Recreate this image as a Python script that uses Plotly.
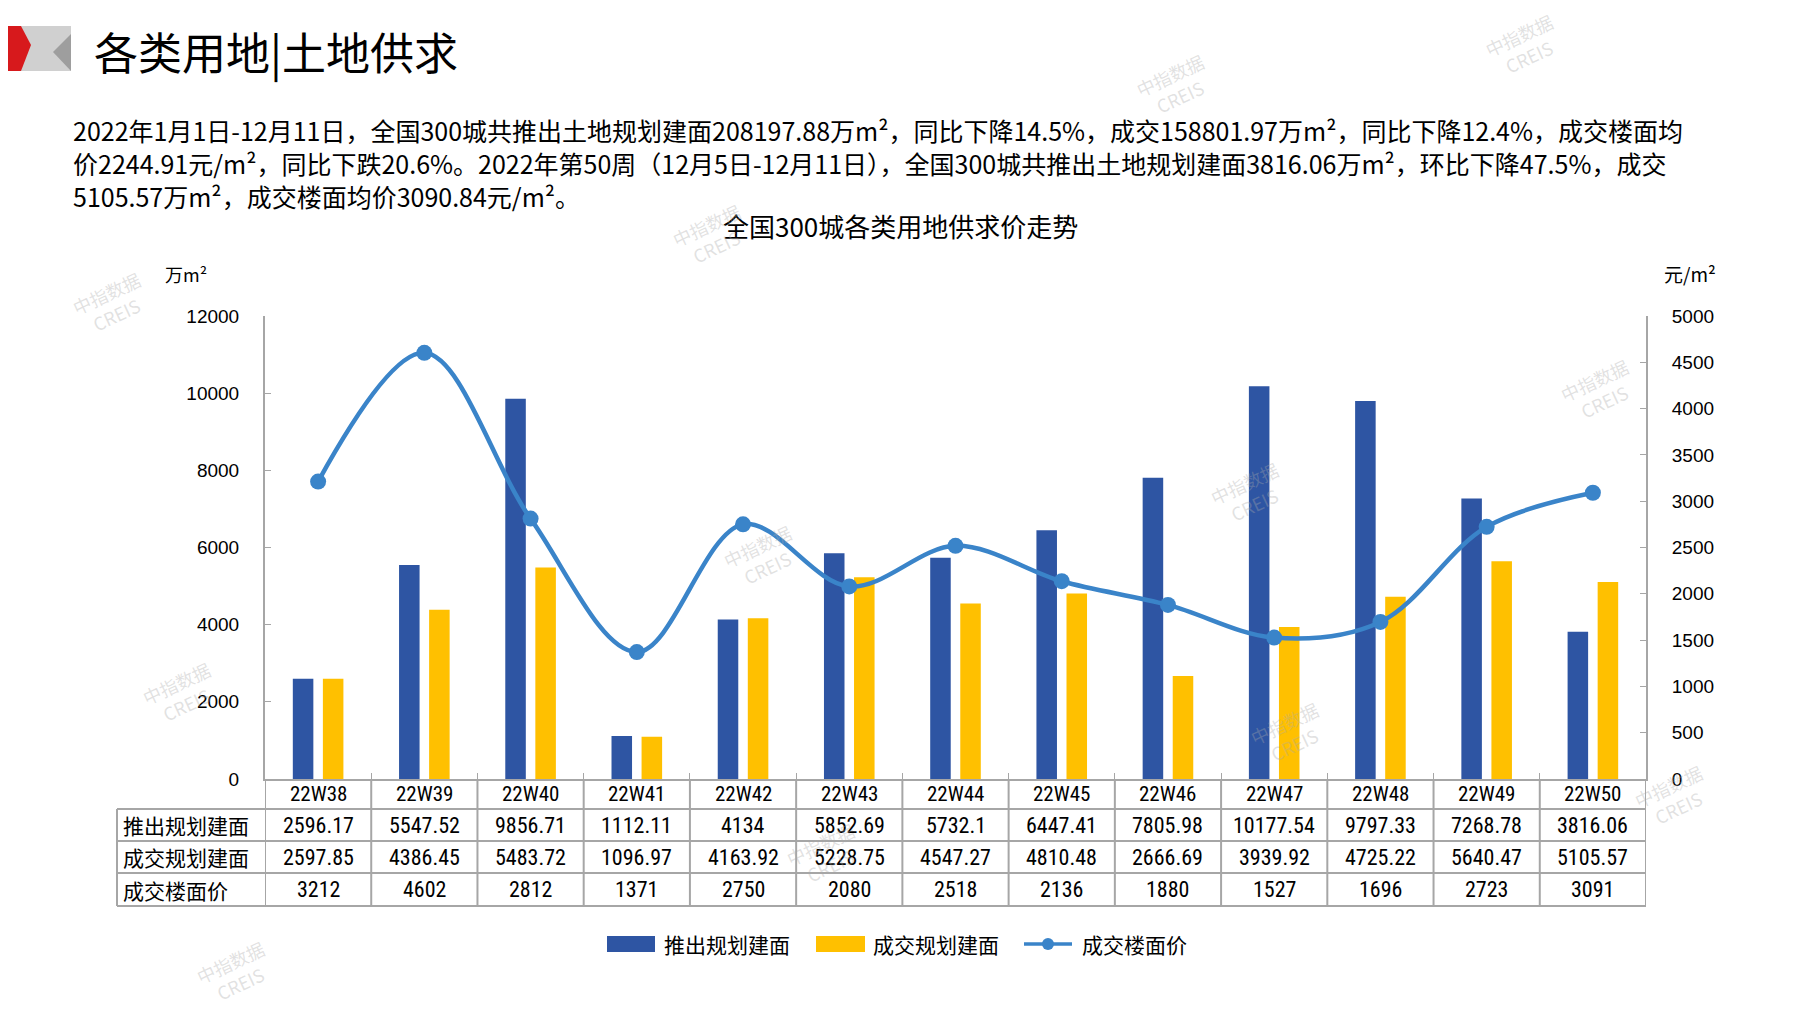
import plotly.graph_objects as go

# ---------------- data ----------------
weeks = ["22W38", "22W39", "22W40", "22W41", "22W42", "22W43", "22W44",
         "22W45", "22W46", "22W47", "22W48", "22W49", "22W50"]
supply = [2596.17, 5547.52, 9856.71, 1112.11, 4134, 5852.69, 5732.1,
          6447.41, 7805.98, 10177.54, 9797.33, 7268.78, 3816.06]
deal = [2597.85, 4386.45, 5483.72, 1096.97, 4163.92, 5228.75, 4547.27,
        4810.48, 2666.69, 3939.92, 4725.22, 5640.47, 5105.57]
price = [3212, 4602, 2812, 1371, 2750, 2080, 2518, 2136, 1880, 1527, 1696, 2723, 3091]

supply_lbl = ["2596.17", "5547.52", "9856.71", "1112.11", "4134", "5852.69", "5732.1",
              "6447.41", "7805.98", "10177.54", "9797.33", "7268.78", "3816.06"]
deal_lbl = ["2597.85", "4386.45", "5483.72", "1096.97", "4163.92", "5228.75", "4547.27",
            "4810.48", "2666.69", "3939.92", "4725.22", "5640.47", "5105.57"]
price_lbl = [str(v) for v in price]

series_names = ["推出规划建面", "成交规划建面", "成交楼面价"]
left_ticks = [0, 2000, 4000, 6000, 8000, 10000, 12000]
right_ticks = [0, 500, 1000, 1500, 2000, 2500, 3000, 3500, 4000, 4500, 5000]

heading = "各类用地|土地供求"
para_lines = [
    "2022年1月1日-12月11日，全国300城共推出土地规划建面208197.88万m²，同比下降14.5%，成交158801.97万m²，同比下降12.4%，成交楼面均",
    "价2244.91元/m²，同比下跌20.6%。2022年第50周（12月5日-12月11日），全国300城共推出土地规划建面3816.06万m²，环比下降47.5%，成交",
    "5105.57万m²，成交楼面均价3090.84元/m²。",
]
chart_title = "全国300城各类用地供求价走势"

# ---------------- layout constants (screen px) ----------------
W, H = 1797, 1010
OFF = 8  # default body margin of the html page
L, R, T, B = 265, 1646, 316, 779
PW, PH = R - L, B - T

BLUE = "#2E55A3"
YELLOW = "#FFC000"
LINE = "#3A84C9"
GRID = "#A6A6A6"
CJK = "Noto Sans CJK SC"
NUM = "Liberation Sans Narrow, Roboto Condensed, Liberation Sans, Arial"


def px_x(px):
    return (px - L) / PW


def px_y(py):
    return (B - py) / PH


def ann(x, y, text, font, xref="paper", xanchor="center", **kw):
    d = dict(x=x, y=y, xref=xref, yref="paper", text=text, showarrow=False,
             xanchor=xanchor, yanchor="middle", font=font)
    d.update(kw)
    return d


fig = go.Figure()
fig.add_trace(go.Bar(x=weeks, y=supply, name=series_names[0], marker_color=BLUE,
                     marker_line_width=0, showlegend=False))
fig.add_trace(go.Bar(x=weeks, y=deal, name=series_names[1], marker_color=YELLOW,
                     marker_line_width=0, showlegend=False))
fig.add_trace(go.Scatter(x=weeks, y=price, name=series_names[2], yaxis="y2",
                         mode="lines+markers", showlegend=False, cliponaxis=False,
                         line=dict(color=LINE, width=4.5, shape="spline", smoothing=1.0),
                         marker=dict(color=LINE, size=16)))

shapes = []
annotations = []

# table horizontal lines
row_bounds = [779, 809, 841, 873, 906]
for yb in row_bounds[1:]:
    shapes.append(dict(type="line", xref="paper", yref="paper",
                       x0=px_x(117), x1=1, y0=px_y(yb), y1=px_y(yb),
                       line=dict(color=GRID, width=2)))
# vertical lines
shapes.append(dict(type="line", xref="paper", yref="paper", x0=px_x(117), x1=px_x(117),
                   y0=px_y(809), y1=px_y(906), line=dict(color=GRID, width=2)))
for k in range(len(weeks) + 1):
    shapes.append(dict(type="line", xref="x", yref="paper", x0=k - 0.5, x1=k - 0.5,
                       y0=px_y(779), y1=px_y(906), line=dict(color=GRID, width=2)))

# table texts
row_centers = [794, 825, 857, 889.5]
row_labels = ["推出规划建面", "成交规划建面", "成交楼面价"]
row_values = [supply_lbl, deal_lbl, price_lbl]
for j, wk in enumerate(weeks):
    annotations.append(ann(wk, px_y(row_centers[0]), wk,
                           dict(family=NUM, size=21, color="#000"), xref="x"))
    for r in range(3):
        annotations.append(ann(wk, px_y(row_centers[r + 1]), row_values[r][j],
                               dict(family=NUM, size=22, color="#000"), xref="x"))
for r in range(3):
    annotations.append(ann(px_x(121), px_y(row_centers[r + 1]), row_labels[r],
                           dict(family=CJK, size=21, color="#000"), xanchor="left"))

# axis unit labels
annotations.append(ann(px_x(186), px_y(274), "万m²", dict(family=CJK, size=18, color="#000")))
annotations.append(ann(px_x(1690), px_y(274), "元/m²", dict(family=CJK, size=19, color="#000")))

# chart title
annotations.append(ann(px_x(900), px_y(225), chart_title, dict(family=CJK, size=26, color="#000")))

# heading
annotations.append(ann(px_x(92), px_y(51), heading, dict(family=CJK, size=44, color="#000"),
                       xanchor="left"))

# paragraph
for i, line in enumerate(para_lines):
    annotations.append(ann(px_x(71), px_y(130 + 33 * i), line,
                           dict(family=CJK, size=25, color="#000"), xanchor="left"))

# logo
top, bot = 26, 71
shapes.append(dict(type="path", xref="paper", yref="paper",
                   path="M {0},{1} L {2},{1} L {2},{3} L {0},{3} Z".format(
                       px_x(0), px_y(top), px_x(71), px_y(bot)),
                   fillcolor="#D0D0D0", line=dict(width=0), layer="above"))
shapes.append(dict(type="path", xref="paper", yref="paper",
                   path="M {0},{1} L {2},{1} L {3},{4} L {5},{6} L {0},{6} Z".format(
                       px_x(0), px_y(top), px_x(21), px_x(31), px_y(45), px_x(21), px_y(bot)),
                   fillcolor="#D7191C", line=dict(width=0), layer="above"))
shapes.append(dict(type="path", xref="paper", yref="paper",
                   path="M {0},{1} L {2},{3} L {2},{4} Z".format(
                       px_x(53), px_y(52), px_x(71), px_y(34), px_y(bot)),
                   fillcolor="#9E9E9E", line=dict(width=0), layer="above"))

# custom legend
LY = 944
shapes.append(dict(type="rect", xref="paper", yref="paper", x0=px_x(607), x1=px_x(655),
                   y0=px_y(LY - 8), y1=px_y(LY + 8), fillcolor=BLUE, line=dict(width=0)))
annotations.append(ann(px_x(662), px_y(LY), series_names[0],
                       dict(family=CJK, size=21, color="#000"), xanchor="left"))
shapes.append(dict(type="rect", xref="paper", yref="paper", x0=px_x(816), x1=px_x(865),
                   y0=px_y(LY - 8), y1=px_y(LY + 8), fillcolor=YELLOW, line=dict(width=0)))
annotations.append(ann(px_x(871), px_y(LY), series_names[1],
                       dict(family=CJK, size=21, color="#000"), xanchor="left"))
shapes.append(dict(type="line", xref="paper", yref="paper", x0=px_x(1024), x1=px_x(1072),
                   y0=px_y(LY), y1=px_y(LY), line=dict(color=LINE, width=3.5)))
shapes.append(dict(type="circle", xref="paper", yref="paper", x0=px_x(1042), x1=px_x(1054),
                   y0=px_y(LY - 6), y1=px_y(LY + 6), fillcolor=LINE, line=dict(width=0)))
annotations.append(ann(px_x(1080), px_y(LY), series_names[2],
                       dict(family=CJK, size=21, color="#000"), xanchor="left"))

# watermarks
wm = [(111, 303), (1175, 86), (711, 235), (1599, 390), (1249, 493), (762, 556),
      (181, 693), (1289, 733), (1673, 796), (825, 854), (235, 972), (1524, 46)]
for (wx, wy) in wm:
    annotations.append(ann(px_x(wx), px_y(wy), "中指数据<br>CREIS",
                           dict(family=CJK, size=18, color="rgba(170,170,170,0.35)"),
                           textangle=-25))

fig.update_layout(
    width=W, height=H,
    margin=dict(l=L - OFF, r=W - R + OFF, t=T - OFF, b=H - B + OFF, pad=0),
    paper_bgcolor="white", plot_bgcolor="white",
    barmode="group", bargap=0.434, bargroupgap=0.317,
    showlegend=False,
    xaxis=dict(range=[-0.5, len(weeks) - 0.5], showticklabels=False, showline=True,
               linecolor=GRID, linewidth=2,
               ticks="inside", tickson="boundaries", ticklen=6, tickcolor=GRID,
               showgrid=False, zeroline=False, fixedrange=True),
    yaxis=dict(range=[0, 12000], tickvals=left_ticks, tickformat="d", showline=True,
               linecolor=GRID, linewidth=2, ticks="inside", ticklen=6, tickcolor=GRID,
               showgrid=False, zeroline=False, ticklabelstandoff=20,
               tickfont=dict(family="Liberation Sans, Arial", size=19, color="#000")),
    yaxis2=dict(range=[0, 5000], tickvals=right_ticks, tickformat="d", overlaying="y",
                side="right", showline=True, linecolor=GRID, linewidth=2, ticks="inside",
                ticklen=6, tickcolor=GRID, showgrid=False, zeroline=False,
                ticklabelstandoff=20,
                tickfont=dict(family="Liberation Sans, Arial", size=19, color="#000")),
    shapes=shapes,
    annotations=annotations,
)

fig.write_html("out.html")
